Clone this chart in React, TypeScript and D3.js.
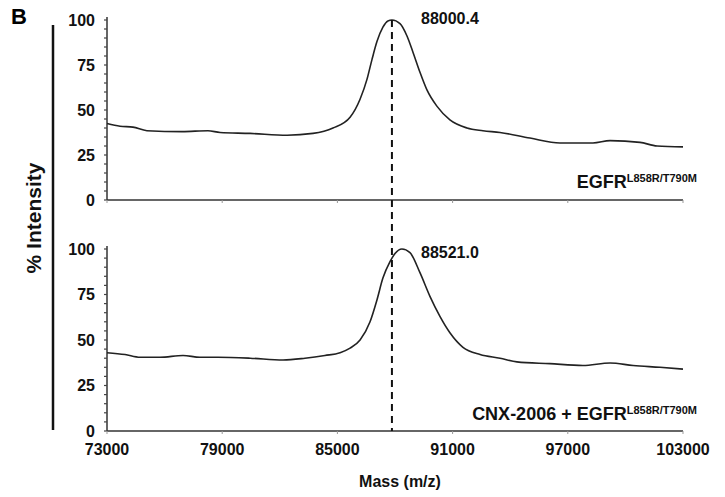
import * as d3 from "d3";
import { useEffect, useRef } from "react";

const width = 725;
const height = 497;

// mass values (m/z) and % intensity
const topMass = [73000, 73680, 74350, 75080, 76910, 78260, 78890, 80450, 82380, 83730, 84770, 85660, 86180, 86540, 86800, 87060, 87370, 87630, 87840, 88260, 88630, 88940, 89300, 89670, 90190, 90860, 91750, 92580, 93470, 95030, 96590, 98310, 99200, 100760, 101650, 103000];
const topIntensity = [42.5, 41, 40.5, 38.5, 38, 38.5, 37.5, 37, 36, 37, 40, 46, 56, 67, 78, 88, 96, 99.5, 100, 98, 91, 82, 71, 61, 52, 44.5, 40, 38.5, 37.5, 34.4, 31.7, 31.7, 33, 32, 30, 29.5];

const bottomMass = [73000, 73940, 74720, 75760, 76960, 77840, 78780, 80450, 82170, 83310, 84350, 85140, 85660, 86180, 86700, 87060, 87370, 87740, 88000, 88360, 88780, 89300, 89820, 90340, 90860, 91540, 92430, 93470, 94350, 96070, 97790, 99200, 100400, 101800, 103000];
const bottomIntensity = [43, 42, 40.5, 40.5, 41.5, 40.5, 40.5, 40, 39, 40, 41.5, 43, 45.5, 50, 60, 72, 84, 93, 97.5, 100, 98, 87, 74, 63, 54, 46, 42, 40, 38, 37, 36, 37.4, 36, 35, 34];

const xTicks = [73000, 79000, 85000, 91000, 97000, 103000];
const yTicks = [0, 25, 50, 75, 100];
const peakLabels = ["88000.4", "88521.0"];
const sampleNames = ["EGFR", "CNX-2006 + EGFR"];
const mutation = "L858R/T790M";
const referenceMass = 87840; // dashed marker position

export default function App() {
  const svgRef = useRef<SVGSVGElement>(null);

  useEffect(() => {
    const svg = d3.select(svgRef.current);
    svg.selectAll("*").remove();
    const font = "'Liberation Sans', Arial, sans-serif";

    const x = d3.scaleLinear().domain([73000, 103000]).range([107, 683]);
    const panels = [
      { y: d3.scaleLinear().domain([0, 100]).range([200, 20]), mass: topMass, inten: topIntensity, label: peakLabels[0], name: sampleNames[0], nameY: 188 },
      { y: d3.scaleLinear().domain([0, 100]).range([431, 249]), mass: bottomMass, inten: bottomIntensity, label: peakLabels[1], name: sampleNames[1], nameY: 420 },
    ];

    svg.append("text")
      .attr("x", 11).attr("y", 24)
      .style("font-family", font).style("font-weight", "bold").style("font-size", "22px")
      .text("B");

    panels.forEach((p, pi) => {
      const g = svg.append("g");
      const [y0, y1] = p.y.range();

      // y axis
      g.append("line").attr("x1", x(73000)).attr("x2", x(73000)).attr("y1", y1 - 3).attr("y2", y0)
        .attr("stroke", "#333").attr("stroke-width", 1.5);
      d3.range(0, 101, 5).forEach(v => {
        g.append("line").attr("x1", x(73000) - 3).attr("x2", x(73000)).attr("y1", p.y(v)).attr("y2", p.y(v))
          .attr("stroke", "#444").attr("stroke-width", 1.2);
      });
      yTicks.forEach(v => {
        g.append("text").attr("x", 95).attr("y", p.y(v)).attr("dy", "0.36em")
          .attr("text-anchor", "end")
          .style("font-family", font).style("font-weight", "bold").style("font-size", "16px").style("fill", "#111")
          .text(v);
      });

      // x axis
      g.append("line").attr("x1", x(73000)).attr("x2", x(103000)).attr("y1", y0).attr("y2", y0)
        .attr("stroke", "#333").attr("stroke-width", 1.5);
      xTicks.forEach(t => {
        g.append("line").attr("x1", x(t)).attr("x2", x(t)).attr("y1", y0).attr("y2", y0 + 3)
          .attr("stroke", "#999").attr("stroke-width", 1);
      });
      if (pi === 1) {
        xTicks.forEach(t => {
          g.append("text").attr("x", x(t)).attr("y", 455).attr("text-anchor", "middle")
            .style("font-family", font).style("font-weight", "bold").style("font-size", "16px").style("fill", "#111")
            .text(t);
        });
      }

      // spectrum
      const pts = p.mass.map((m, i) => [m, p.inten[i]] as [number, number]);
      const line = d3.line<[number, number]>().x(d => x(d[0])).y(d => p.y(d[1])).curve(d3.curveMonotoneX);
      g.append("path").datum(pts).attr("d", line).attr("fill", "none")
        .attr("stroke", "#222").attr("stroke-width", 1.6);

      g.append("text").attr("x", 421).attr("y", pi === 0 ? 24 : 258)
        .style("font-family", font).style("font-weight", "bold").style("font-size", "16px").style("fill", "#111")
        .text(p.label);

      const name = g.append("text").attr("x", 697).attr("y", p.nameY).attr("text-anchor", "end")
        .style("font-family", font).style("font-weight", "bold").style("fill", "#111");
      name.append("tspan").style("font-size", "18px").text(p.name);
      name.append("tspan").style("font-size", "11px").attr("dy", -6).text(mutation);
    });

    // dashed reference line through both panels
    svg.append("line")
      .attr("x1", x(referenceMass)).attr("x2", x(referenceMass))
      .attr("y1", panels[0].y(100)).attr("y2", panels[1].y(0))
      .attr("stroke", "#111").attr("stroke-width", 2).attr("stroke-dasharray", "7,5");

    // y title with bar
    svg.append("line").attr("x1", 53).attr("x2", 53).attr("y1", 25).attr("y2", 430)
      .attr("stroke", "#111").attr("stroke-width", 2.5);
    svg.append("text")
      .attr("transform", "translate(41,218) rotate(-90)")
      .attr("text-anchor", "middle")
      .style("font-family", font).style("font-weight", "bold").style("font-size", "21px").style("fill", "#111")
      .text("% Intensity");

    svg.append("text").attr("x", 400).attr("y", 487).attr("text-anchor", "middle")
      .style("font-family", font).style("font-weight", "bold").style("font-size", "16px").style("fill", "#111")
      .text("Mass (m/z)");
  }, []);

  return (
    <svg ref={svgRef} width={width} height={height}
      style={{ position: "absolute", left: 0, top: 0, background: "#fff" }} />
  );
}
